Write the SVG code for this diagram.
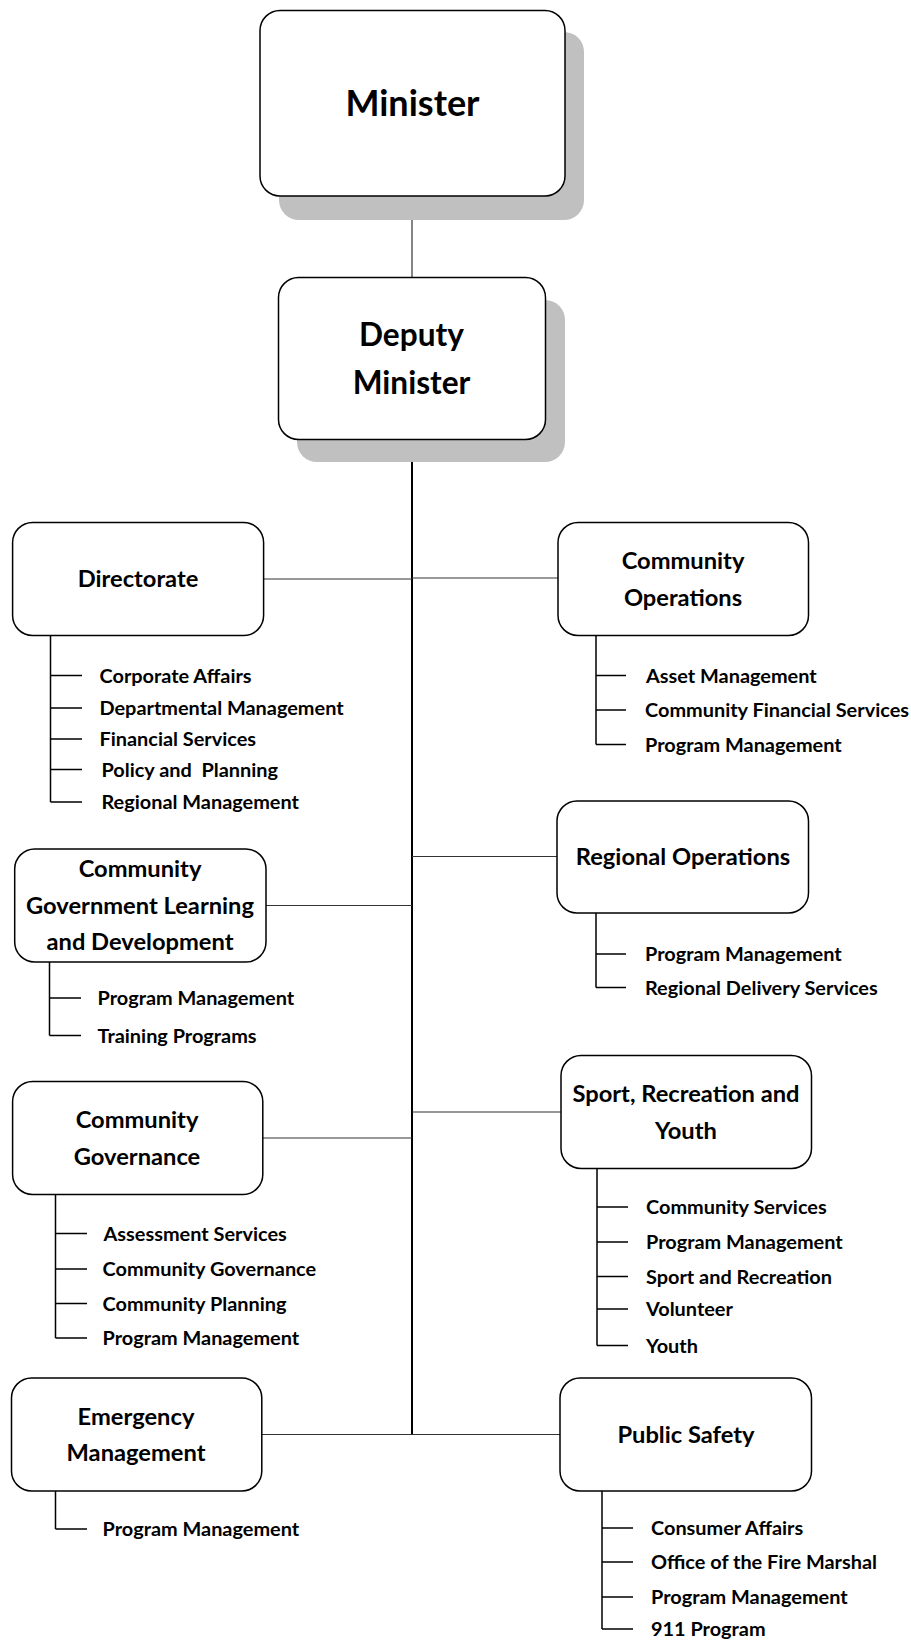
<svg xmlns="http://www.w3.org/2000/svg" width="911" height="1641" viewBox="0 0 911 1641">
<style>
.box{fill:#fff;stroke:#000;stroke-width:1.5}
.shadow{fill:#c0c0c0}
.lbl{font-family:Lato,"Liberation Sans",sans-serif;font-weight:bold;font-size:23.7px;fill:#000;text-anchor:middle}
.big{font-size:36px}
.dep{font-size:31.6px}
.sub{font-family:Lato,"Liberation Sans",sans-serif;font-weight:bold;font-size:19.9px;fill:#000}
.conn{stroke:#333;stroke-width:1.2;fill:none}
.trunk{stroke:#000;stroke-width:2;fill:none}
.tree{stroke:#000;stroke-width:1.5;fill:none}
</style>
<rect width="911" height="1641" fill="#fff"/>
<g id="connectors">
<line class="conn" x1="412" y1="196" x2="412" y2="278"/>
<line class="trunk" x1="412" y1="440" x2="412" y2="1435"/>
<line class="conn" x1="264" y1="579" x2="412" y2="579"/>
<line class="conn" x1="412" y1="578" x2="558" y2="578"/>
<line class="conn" x1="412" y1="856.5" x2="557" y2="856.5"/>
<line class="conn" x1="266" y1="905.5" x2="412" y2="905.5"/>
<line class="conn" x1="263" y1="1138" x2="412" y2="1138"/>
<line class="conn" x1="412" y1="1112" x2="561" y2="1112"/>
<line class="conn" x1="262" y1="1434.5" x2="560" y2="1434.5"/>
</g>
<g id="minister">
<rect class="shadow" x="279" y="32" width="305" height="188" rx="20"/>
<rect class="box" x="260" y="10.5" width="305" height="185.5" rx="20"/>
<text class="lbl big" x="412.5" y="116">Minister</text>
</g>
<g id="deputy-minister">
<rect class="shadow" x="297" y="300" width="268" height="162" rx="20"/>
<rect class="box" x="278.5" y="277.5" width="267" height="162" rx="20"/>
<text class="lbl dep" x="411.5" y="346">Deputy</text>
<text class="lbl dep" x="411.5" y="394">Minister</text>
</g>
<g id="directorate">
<rect class="box" x="12.6" y="522.5" width="251" height="113" rx="20"/>
<text class="lbl" x="138" y="587">Directorate</text>
<path class="tree" d="M50.5 636V802M50.5 675.5H82M50.5 708H82M50.5 739H82M50.5 769.5H82M50.5 802H82"/>
<text class="sub" x="99.5" y="682.5">Corporate Affairs</text>
<text class="sub" x="99.5" y="715">Departmental Management</text>
<text class="sub" x="99.5" y="746">Financial Services</text>
<text class="sub" x="101.5" y="776.5" xml:space="preserve">Policy and  Planning</text>
<text class="sub" x="101.5" y="809">Regional Management</text>
</g>
<g id="community-operations">
<rect class="box" x="558" y="522.5" width="250.5" height="113" rx="20"/>
<text class="lbl" x="683" y="569">Community</text>
<text class="lbl" x="683" y="606">Operations</text>
<path class="tree" d="M596 636V744.5M596 675.5H626M596 710H626M596 744.5H626"/>
<text class="sub" x="646" y="682.5">Asset Management</text>
<text class="sub" x="645" y="717">Community Financial Services</text>
<text class="sub" x="645" y="751.5">Program Management</text>
</g>
<g id="regional-operations">
<rect class="box" x="557" y="801" width="251.5" height="112" rx="20"/>
<text class="lbl" x="683" y="864.5">Regional Operations</text>
<path class="tree" d="M596 913V987.5M596 954H626M596 987.5H626"/>
<text class="sub" x="645" y="961">Program Management</text>
<text class="sub" x="645" y="994.5">Regional Delivery Services</text>
</g>
<g id="community-government-learning">
<rect class="box" x="14.7" y="849" width="251.3" height="113" rx="20"/>
<text class="lbl" x="140" y="877">Community</text>
<text class="lbl" x="140" y="914">Government Learning</text>
<text class="lbl" x="140" y="950">and Development</text>
<path class="tree" d="M49.5 962V1035.5M49.5 998H81M49.5 1035.5H81"/>
<text class="sub" x="97.5" y="1005">Program Management</text>
<text class="sub" x="97.5" y="1042.5">Training Programs</text>
</g>
<g id="community-governance">
<rect class="box" x="12.6" y="1081.5" width="250.2" height="113" rx="20"/>
<text class="lbl" x="137" y="1128">Community</text>
<text class="lbl" x="137" y="1165">Governance</text>
<path class="tree" d="M55.5 1195V1338M55.5 1233.5H87M55.5 1269H87M55.5 1303.5H87M55.5 1338H87"/>
<text class="sub" x="103.5" y="1240.5">Assessment Services</text>
<text class="sub" x="102.5" y="1276">Community Governance</text>
<text class="sub" x="102.5" y="1310.5">Community Planning</text>
<text class="sub" x="102.5" y="1345">Program Management</text>
</g>
<g id="sport-recreation-youth">
<rect class="box" x="561" y="1055.5" width="250.5" height="113" rx="20"/>
<text class="lbl" x="686" y="1102">Sport, Recreation and</text>
<text class="lbl" x="686" y="1139">Youth</text>
<path class="tree" d="M597 1169V1345.5M597 1207H628M597 1242H628M597 1276.5H628M597 1309H628M597 1345.5H628"/>
<text class="sub" x="646" y="1214">Community Services</text>
<text class="sub" x="646" y="1249">Program Management</text>
<text class="sub" x="646" y="1283.5">Sport and Recreation</text>
<text class="sub" x="646" y="1316">Volunteer</text>
<text class="sub" x="646" y="1352.5">Youth</text>
</g>
<g id="emergency-management">
<rect class="box" x="11.5" y="1378" width="250.3" height="113" rx="20"/>
<text class="lbl" x="136" y="1425">Emergency</text>
<text class="lbl" x="136" y="1461">Management</text>
<path class="tree" d="M55.5 1491V1529M55.5 1529H87"/>
<text class="sub" x="102.5" y="1536">Program Management</text>
</g>
<g id="public-safety">
<rect class="box" x="560" y="1378" width="251.5" height="113" rx="20"/>
<text class="lbl" x="686" y="1442.5">Public Safety</text>
<path class="tree" d="M602 1491V1629M602 1528H633M602 1562H633M602 1597H633M602 1629H633"/>
<text class="sub" x="651" y="1535">Consumer Affairs</text>
<text class="sub" x="651" y="1569">Office of the Fire Marshal</text>
<text class="sub" x="651" y="1604">Program Management</text>
<text class="sub" x="651" y="1636">911 Program</text>
</g>
</svg>
